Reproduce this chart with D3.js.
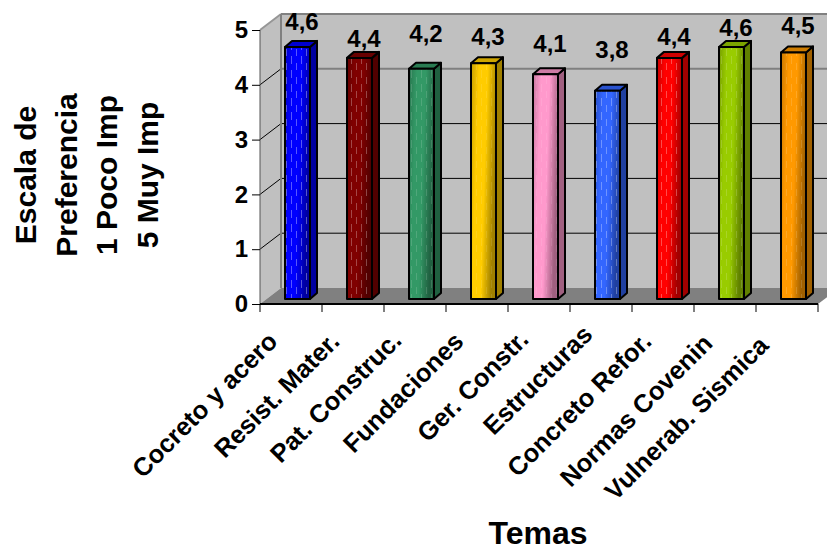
<!DOCTYPE html>
<html>
<head>
<meta charset="utf-8">
<script src="https://cdn.jsdelivr.net/npm/d3@7/dist/d3.min.js"></script>
<style>
html,body{margin:0;padding:0;background:#fff}
svg{display:block}
text{font-family:"Liberation Sans",Arial,sans-serif;font-weight:bold;fill:#000}
</style>
</head>
<body>
<svg id="chart" width="827" height="546"></svg>
<script>
const categories = ["Cocreto y acero","Resist. Mater.","Pat. Construc.","Fundaciones","Ger. Constr.","Estructuras","Concreto Refor.","Normas Covenin","Vulnerab. Sismica"];
const values = [4.6,4.4,4.2,4.3,4.1,3.8,4.4,4.6,4.5];
const valueLabels = ["4,6","4,4","4,2","4,3","4,1","3,8","4,4","4,6","4,5"];
const barColors = ["#0000ff","#800000","#339966","#ffcc00","#ff99cc","#3366ff","#ff0000","#99cc00","#ff9900"];
const yTicks = [0,1,2,3,4,5];
const titleLines = ["Escala de","Preferencia","1 Poco Imp","5 Muy Imp"];

const svg = d3.select("#chart");
const defs = svg.append("defs");

// Plot box: front plane plus the oblique offset of the back wall
const x = d3.scaleBand().domain(categories).range([260,818]);
const y = d3.scaleLinear().domain([0,5]).range([304,30]);
const wall = {dx:21, dy:-16};
const bar = {width:25, depth:7, rise:6, shiftX:6.5, shiftY:-5};
const right = x.range()[1], left = x.range()[0];

// Hand-placed gap between each bar top and its value label
const labelGaps = [17,10.5,27,18,22,33,13,11,18];
// How strongly the flecks show on each bar
const fleckStrength = [0.34,0.28,0.14,0.1,0.1,0.3,0.3,0.16,0.14];
// Hand-placed nudges of the rotated category labels
const catNudges = [[0,0],[0,0],[0,-1],[0,0],[3,-2],[5,-7],[2,0],[1,2],[-5,4]];

// Walls and floor
const poly = (pts,fill) => svg.append("polygon").attr("points",pts.map(p=>p.join(",")).join(" ")).attr("fill",fill);
poly([[left+wall.dx,y(5)+wall.dy],[right+wall.dx,y(5)+wall.dy],[right+wall.dx,y(0)+wall.dy],[left+wall.dx,y(0)+wall.dy]],"#c0c0c0");
poly([[left,y(5)],[left+wall.dx,y(5)+wall.dy],[left+wall.dx,y(0)+wall.dy],[left,y(0)]],"#c0c0c0");
poly([[left,y(0)],[left+wall.dx,y(0)+wall.dy],[right+wall.dx,y(0)+wall.dy],[right,y(0)]],"#808080");

// Gridlines run along the side wall, then across the back wall
yTicks.filter(t=>t>0).forEach(t=>{
  const heavyBack = t>=4, heavySide = t===5;
  svg.append("line")
    .attr("x1",left).attr("y1",y(t)).attr("x2",left+wall.dx).attr("y2",y(t)+wall.dy)
    .attr("stroke",heavySide?"#969696":"#000").attr("stroke-width",heavySide?2:1);
  svg.append("line")
    .attr("x1",left+wall.dx).attr("y1",y(t)+wall.dy).attr("x2",right+wall.dx).attr("y2",y(t)+wall.dy)
    .attr("stroke",heavyBack?"#808080":"#000").attr("stroke-width",heavyBack?2:1);
});
svg.append("line").attr("x1",left+wall.dx).attr("x2",left+wall.dx).attr("y1",y(5)+wall.dy).attr("y2",y(0)+wall.dy).attr("stroke","#808080").attr("stroke-width",2);
svg.append("line").attr("x1",left).attr("x2",left).attr("y1",y(5)).attr("y2",y(0)).attr("stroke","#555");

// Axes
const yAxis = svg.append("g").attr("transform",`translate(${left},0)`)
  .call(d3.axisLeft(y).tickValues(yTicks).tickFormat(d3.format("d")).tickSize(8).tickPadding(4));
yAxis.select(".domain").remove();
yAxis.selectAll("line").attr("stroke","#000");
yAxis.selectAll("text").style("font-size","24px");

const xEdges = d3.range(categories.length+1).map(i=>left+i*x.step());
svg.append("line").attr("x1",left).attr("x2",right).attr("y1",y(0)).attr("y2",y(0)).attr("stroke","#000").attr("stroke-width",2);
svg.selectAll(".xtick").data(xEdges).join("line").attr("class","xtick")
  .attr("x1",d=>d).attr("x2",d=>d).attr("y1",y(0)).attr("y2",y(0)+8).attr("stroke","#000");

// Bar shading: a slanted horizontal ramp and faint vertical flecks over it
const shade = (c,k)=>d3.rgb(c).darker(k).formatHex();
barColors.forEach((c,i)=>{
  const g = defs.append("linearGradient").attr("id",`ramp${i}`).attr("x1",0).attr("x2",1).attr("y1",0).attr("y2",0.3);
  [[0,shade(c,0.7)],[0.3,c],[0.62,c],[1,shade(c,1.3)]].forEach(([o,col])=>g.append("stop").attr("offset",o).attr("stop-color",col));
});
const fleck = defs.append("pattern").attr("id","fleck").attr("patternUnits","userSpaceOnUse").attr("width",10).attr("height",14);
[[1,0],[6,7]].forEach(([fx,fy])=>fleck.append("rect").attr("x",fx).attr("y",fy).attr("width",1).attr("height",8).attr("fill","#fff"));

const barX = d => x(d)+(x.bandwidth()-bar.width)/2+bar.shiftX;
const base = y(0)+bar.shiftY;
svg.selectAll(".bar").data(categories).join("g").attr("class","bar").each(function(cat,i){
  const g = d3.select(this), x0 = barX(cat), x1 = x0+bar.width;
  const top = y(values[i])+bar.shiftY;
  const stroked = m => m.attr("stroke","#000").attr("stroke-width",2).attr("stroke-linejoin","round");
  stroked(g.append("polygon")
    .attr("points",`${x1},${top} ${x1+bar.depth},${top-bar.rise} ${x1+bar.depth},${base-bar.rise} ${x1},${base}`)
    .attr("fill",shade(barColors[i],1.3)));
  stroked(g.append("polygon")
    .attr("points",`${x0},${top} ${x0+bar.depth},${top-bar.rise} ${x1+bar.depth},${top-bar.rise} ${x1},${top}`)
    .attr("fill",shade(barColors[i],0.6)));
  const face = () => g.append("rect").attr("x",x0).attr("y",top).attr("width",bar.width).attr("height",base-top);
  face().attr("fill",`url(#ramp${i})`);
  face().attr("fill","url(#fleck)").attr("opacity",fleckStrength[i]);
  stroked(face().attr("fill","none"));
  g.append("text").attr("x",x0+bar.width/2+4.5).attr("y",top-labelGaps[i])
    .attr("text-anchor","middle").style("font-size","24px").text(valueLabels[i]);
});

// Rotated category labels end under each slot
svg.selectAll(".cat").data(categories).join("text").attr("class","cat")
  .attr("text-anchor","end").style("font-size","25.5px")
  .attr("transform",(d,i)=>`translate(${x(d)+x.bandwidth()/2-12+catNudges[i][0]},${y(0)+39+catNudges[i][1]}) rotate(-45)`)
  .text(d=>d);

// Axis titles
const yTitle = svg.append("text").attr("text-anchor","middle").style("font-size","30px")
  .attr("transform","translate(0,175) rotate(-90)");
titleLines.forEach((t,i)=>{
  yTitle.append("tspan").attr("x",0).attr("y",36+i*40.7).text(t);
});
svg.append("text").attr("x",538).attr("y",544).attr("text-anchor","middle").style("font-size","32px").text("Temas");
</script>
</body>
</html>
